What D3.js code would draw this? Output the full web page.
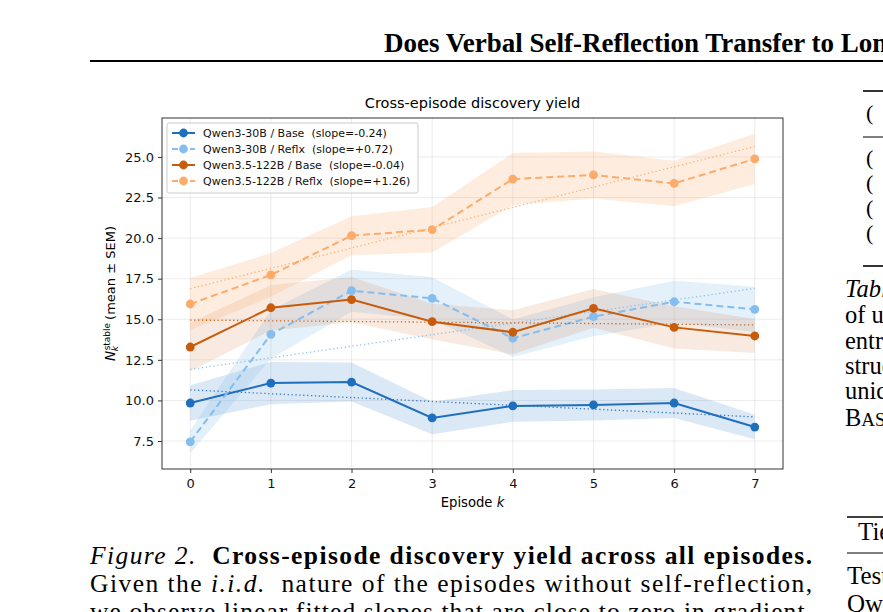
<!DOCTYPE html>
<html>
<head>
<meta charset="utf-8">
<script src="https://d3js.org/d3.v7.min.js"></script>
<style>
  body { margin: 0; background: #fff; }
  svg { display: block; background: #fff; }
  .serif { font-family: "Liberation Serif", "Times New Roman", serif; }
  .chart text { font-family: "DejaVu Sans", sans-serif; }
</style>
</head>
<body>
<svg id="page" width="883" height="612"></svg>
<script>
// episodes on the x axis
const episodes = [0, 1, 2, 3, 4, 5, 6, 7];

// mean N_k^stable and SEM
const base30 = [9.84, 11.07, 11.13, 8.92, 9.66, 9.72, 9.84, 8.36];
const base30Sem = [1.1, 1.3, 1.2, 1.0, 0.98, 0.95, 0.92, 0.75];
const reflx30 = [7.45, 14.07, 16.76, 16.29, 13.83, 15.16, 16.08, 15.61];
const reflx30Sem = [0.7, 1.5, 1.3, 1.3, 1.15, 1.2, 1.3, 1.4];
const base122 = [13.29, 15.71, 16.21, 14.85, 14.20, 15.67, 14.50, 13.97];
const base122Sem = [1.5, 1.4, 1.4, 1.1, 1.35, 1.2, 1.3, 1.05];
const reflx122 = [15.94, 17.73, 20.15, 20.52, 23.64, 23.89, 23.37, 24.88];
const reflx122Sem = [1.6, 1.35, 1.2, 1.4, 1.6, 1.45, 1.4, 1.55];

const seriesNames = ["Qwen3-30B / Base", "Qwen3-30B / Reflx", "Qwen3.5-122B / Base", "Qwen3.5-122B / Reflx"];
const slopeLabels = ["-0.24", "+0.72", "-0.04", "+1.26"];
const yTicks = [7.5, 10.0, 12.5, 15.0, 17.5, 20.0, 22.5, 25.0];

const colors = ["#1f6fbf", "#85bdee", "#c85c0c", "#fcab6a"];
const bandAlpha = [0.16, 0.22, 0.13, 0.22];
const dashed = [false, true, false, true];

const series = [
  {name: seriesNames[0], mean: base30, sem: base30Sem},
  {name: seriesNames[1], mean: reflx30, sem: reflx30Sem},
  {name: seriesNames[2], mean: base122, sem: base122Sem},
  {name: seriesNames[3], mean: reflx122, sem: reflx122Sem}
];

const svg = d3.select("#page");

// ---- page header ----
svg.append("text").attr("class", "serif")
  .attr("x", 384).attr("y", 52)
  .attr("font-size", 27).attr("font-weight", "bold")
  .text("Does Verbal Self-Reflection Transfer to Long");
svg.append("line").attr("x1", 90).attr("x2", 883).attr("y1", 61).attr("y2", 61)
  .attr("stroke", "#000").attr("stroke-width", 2);

// ---- chart ----
const plot = {left: 162, right: 783, top: 118, bottom: 469};
const x = d3.scaleLinear().domain([-0.35, 7.35]).range([plot.left, plot.right]);
const y = d3.scaleLinear().domain([5.775, 27.40]).range([plot.bottom, plot.top]);

const chart = svg.append("g").attr("class", "chart");

// grid
chart.append("g").selectAll("line").data(episodes).join("line")
  .attr("x1", d => x(d)).attr("x2", d => x(d))
  .attr("y1", plot.top).attr("y2", plot.bottom)
  .attr("stroke", "#b0b0b0").attr("stroke-opacity", 0.3).attr("stroke-width", 0.8);
chart.append("g").selectAll("line").data(yTicks).join("line")
  .attr("x1", plot.left).attr("x2", plot.right)
  .attr("y1", d => y(d)).attr("y2", d => y(d))
  .attr("stroke", "#b0b0b0").attr("stroke-opacity", 0.3).attr("stroke-width", 0.8);

// SEM bands
const area = d3.area()
  .x((d, i) => x(episodes[i]))
  .y0(d => y(d[0] - d[1]))
  .y1(d => y(d[0] + d[1]));
series.forEach((s, k) => {
  chart.append("path")
    .datum(s.mean.map((m, i) => [m, s.sem[i]]))
    .attr("d", area)
    .attr("fill", colors[k]).attr("fill-opacity", bandAlpha[k]);
});

// least squares fit for the dotted lines
function fit(vals) {
  const mx = d3.mean(episodes), my = d3.mean(vals);
  const sxy = d3.sum(episodes, (e, i) => (e - mx) * (vals[i] - my));
  const sxx = d3.sum(episodes, e => (e - mx) * (e - mx));
  const b = sxy / sxx;
  return e => my + b * (e - mx);
}

const line = d3.line().x((d, i) => x(episodes[i])).y(d => y(d));
series.forEach((s, k) => {
  chart.append("path")
    .datum(s.mean)
    .attr("d", line)
    .attr("fill", "none").attr("stroke", colors[k]).attr("stroke-width", 2)
    .attr("stroke-dasharray", dashed[k] ? "7,4" : null);
  chart.append("g").selectAll("circle").data(s.mean).join("circle")
    .attr("cx", (d, i) => x(episodes[i])).attr("cy", d => y(d))
    .attr("r", 4.4).attr("fill", colors[k]);
  const f = fit(s.mean);
  const ends = [0, 7];
  chart.append("line")
    .attr("x1", x(ends[0])).attr("y1", y(f(ends[0])))
    .attr("x2", x(ends[1])).attr("y2", y(f(ends[1])))
    .attr("stroke", colors[k]).attr("stroke-width", 1.3)
    .attr("stroke-dasharray", "1.3,2.6").attr("stroke-opacity", 0.9);
});

// frame
chart.append("rect")
  .attr("x", plot.left).attr("y", plot.top)
  .attr("width", plot.right - plot.left).attr("height", plot.bottom - plot.top)
  .attr("fill", "none").attr("stroke", "#333").attr("stroke-width", 1);

// axes
const xAxis = chart.append("g")
  .attr("transform", `translate(0,${plot.bottom})`)
  .call(d3.axisBottom(x).tickValues(episodes).tickFormat(d3.format("d"))
    .tickSize(4).tickPadding(6).tickSizeOuter(0));
const yAxis = chart.append("g")
  .attr("transform", `translate(${plot.left},0)`)
  .call(d3.axisLeft(y).tickValues(yTicks).tickFormat(d3.format(".1f"))
    .tickSize(4).tickPadding(4).tickSizeOuter(0));
[xAxis, yAxis].forEach(a => {
  a.select(".domain").remove();
  a.selectAll("line").attr("stroke", "#333");
  a.selectAll("text").attr("font-size", 13).attr("fill", "#111")
    .attr("font-family", "DejaVu Sans, sans-serif");
});

// title and axis labels
chart.append("text")
  .attr("x", (plot.left + plot.right) / 2).attr("y", 108)
  .attr("text-anchor", "middle").attr("font-size", 14.5)
  .text("Cross-episode discovery yield");

const xl = chart.append("text")
  .attr("x", (plot.left + plot.right) / 2).attr("y", 507)
  .attr("text-anchor", "middle").attr("font-size", 13.2);
xl.append("tspan").text("Episode ");
xl.append("tspan").attr("font-style", "italic").text("k");

const yl = chart.append("g")
  .attr("transform", `translate(115,${(plot.top + plot.bottom) / 2}) rotate(-90)`);
const nT = yl.append("text").attr("font-size", 13.5).attr("font-style", "italic").text("N");
const supT = yl.append("text").attr("font-size", 9).attr("y", -5.5).text("stable");
const subT = yl.append("text").attr("font-size", 9).attr("font-style", "italic").attr("y", 3).text("k");
const restT = yl.append("text").attr("font-size", 13).text(" (mean \u00b1 SEM)");
const wN = nT.node().getComputedTextLength();
const wSup = supT.node().getComputedTextLength();
const wRest = restT.node().getComputedTextLength();
const total = wN + 0.5 + wSup + wRest + 3;
const x0 = -total / 2;
nT.attr("x", x0);
supT.attr("x", x0 + wN + 0.5);
subT.attr("x", x0 + wN - 0.5);
restT.attr("x", x0 + wN + 0.5 + wSup + 3);

// legend
const legend = chart.append("g");
legend.append("rect")
  .attr("x", 167).attr("y", 123).attr("width", 251).attr("height", 70).attr("rx", 2)
  .attr("fill", "#fff").attr("fill-opacity", 0.8)
  .attr("stroke", "#ccc").attr("stroke-width", 1);
series.forEach((s, k) => {
  const ry = 133 + k * 16;
  legend.append("line")
    .attr("x1", 172).attr("x2", 195).attr("y1", ry).attr("y2", ry)
    .attr("stroke", colors[k]).attr("stroke-width", 2)
    .attr("stroke-dasharray", dashed[k] ? "6,3" : null);
  legend.append("circle").attr("cx", 183.5).attr("cy", ry).attr("r", 4.4).attr("fill", colors[k]);
  legend.append("text")
    .attr("x", 203).attr("y", ry + 4).attr("font-size", 11).attr("fill", "#111")
    .attr("xml:space", "preserve")
    .text(`${s.name}  (slope=${slopeLabels[k]})`);
});

// ---- figure caption ----
const cap1 = svg.append("text").attr("class", "serif")
  .attr("x", 90).attr("y", 564).attr("font-size", 25.5)
  .attr("textLength", 722).attr("lengthAdjust", "spacing");
cap1.append("tspan").attr("font-style", "italic").text("Figure 2.\u00a0\u00a0");
cap1.append("tspan").attr("font-weight", "bold").text("Cross-episode discovery yield across all episodes.");

const cap2 = svg.append("text").attr("class", "serif")
  .attr("x", 90).attr("y", 592).attr("font-size", 25.5)
  .attr("textLength", 722).attr("lengthAdjust", "spacing");
cap2.append("tspan").text("Given the ");
cap2.append("tspan").attr("font-style", "italic").text("i.i.d.");
cap2.append("tspan").text("\u00a0 nature of the episodes without self-reflection,");

svg.append("text").attr("class", "serif")
  .attr("x", 90).attr("y", 620).attr("font-size", 25.5)
  .attr("textLength", 722).attr("lengthAdjust", "spacing")
  .text("we observe linear fitted slopes that are close to zero in gradient,");

// ---- right column (cut off at the page edge) ----
const rule = (x1, yy, w) => svg.append("line").attr("x1", x1).attr("x2", 883)
  .attr("y1", yy).attr("y2", yy).attr("stroke", "#000").attr("stroke-width", w);
rule(863, 91, 1.6);
rule(863, 137, 1);
rule(863, 266, 1.6);
const tableRows = [120, 165, 190, 215, 240];
svg.append("g").selectAll("text").data(tableRows).join("text").attr("class", "serif")
  .attr("x", 866).attr("y", d => d).attr("font-size", 22).text("(");

const colLines = [
  {y: 297, t: "Table 3.", it: true}, {y: 323, t: "of unique"}, {y: 349, t: "entries"},
  {y: 374, t: "structured"}, {y: 399, t: "unique"}
];
svg.append("g").selectAll("text").data(colLines).join("text").attr("class", "serif")
  .attr("x", 845).attr("y", d => d.y).attr("font-size", 24.5)
  .attr("font-style", d => d.it ? "italic" : null).text(d => d.t);
const ba = svg.append("text").attr("class", "serif").attr("x", 845).attr("y", 426).attr("font-size", 24.5);
ba.append("tspan").text("B");
ba.append("tspan").attr("font-size", 19).text("ASE");

rule(847, 517, 1.6);
svg.append("text").attr("class", "serif").attr("x", 858).attr("y", 540).attr("font-size", 25).text("Tier");
rule(847, 553, 1);
svg.append("text").attr("class", "serif").attr("x", 847).attr("y", 584).attr("font-size", 25).text("Test");
svg.append("text").attr("class", "serif").attr("x", 847).attr("y", 612).attr("font-size", 25).text("Qwen");
</script>
</body>
</html>
